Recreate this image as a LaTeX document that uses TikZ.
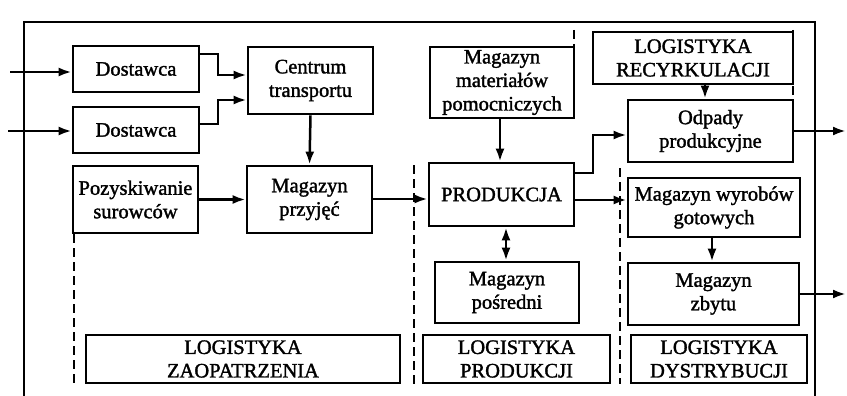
\documentclass[tikz,border=0pt]{standalone}
\usepackage{fontspec}
\setmainfont{Liberation Serif}[RawFeature={embolden=1.6}]
\usetikzlibrary{arrows.meta}
\begin{document}
\begin{tikzpicture}[x=1pt,y=-1pt,
  box/.style={draw,line width=2.7pt,inner sep=0pt,align=center,
    font=\fontsize{20.5}{23.5}\selectfont},
  conn/.style={line width=2.5pt,-{Latex[length=13pt,width=9pt]}},
  dconn/.style={line width=2.5pt,{Latex[length=13pt,width=9pt]}-{Latex[length=13pt,width=9pt]}},
  divider/.style={line width=2.8pt,dash pattern=on 9pt off 5pt},
  frame/.style={line width=2.8pt}]
\useasboundingbox (0,0) rectangle (847,396);
% frame
\coordinate (fbl) at (24,396);
\coordinate (ftl) at (24,22);
\coordinate (ftr) at (815,22);
\coordinate (fbr) at (815,396);
\draw[frame] (fbl) -- (ftl) -- (ftr) -- (fbr);
% boxes
\node[box,minimum width=126pt,minimum height=46pt] (d1) at (136,69) {Dostawca};
\node[box,minimum width=126pt,minimum height=46pt] (d2) at (136,130) {Dostawca};
\node[box,minimum width=125pt,minimum height=67pt] (ct) at (310.5,80.5) {Centrum\\transportu};
\node[box,minimum width=125pt,minimum height=67pt] (poz) at (135.5,199.5) {Pozyskiwanie\\surowców};
\node[box,minimum width=125pt,minimum height=67pt] (mp) at (309.5,199.5) {Magazyn\\przyjęć};
\node[box,minimum width=144pt,minimum height=71pt] (mm) at (502,82.5) {Magazyn\\materiałów\\pomocniczych};
\node[box,minimum width=145pt,minimum height=63pt] (prod) at (501.5,194.5) {PRODUKCJA};
\node[box,minimum width=200pt,minimum height=52pt] (lr) at (693,58) {LOGISTYKA\\RECYRKULACJI};
\node[box,minimum width=165pt,minimum height=62pt] (odp) at (710.5,131) {Odpady\\produkcyjne};
\node[box,minimum width=172pt,minimum height=59pt] (mwg) at (714,207.5) {Magazyn wyrobów\\gotowych};
\node[box,minimum width=171pt,minimum height=62pt] (mz) at (713.5,294) {Magazyn\\zbytu};
\node[box,minimum width=144pt,minimum height=61pt] (mpos) at (507,292.5) {Magazyn\\pośredni};
\node[box,minimum width=314pt,minimum height=48pt] (lz) at (243,359) {LOGISTYKA\\ZAOPATRZENIA};
\node[box,minimum width=187pt,minimum height=48pt] (lp) at (516.5,359) {LOGISTYKA\\PRODUKCJI};
\node[box,minimum width=176pt,minimum height=48pt] (ld) at (719,359) {LOGISTYKA\\DYSTRYBUCJI};
% dividers
\coordinate (dv1a) at (74,234); \coordinate (dv1b) at (74,384);
\coordinate (dv2a) at (414,165); \coordinate (dv2b) at (414,384);
\coordinate (dv3a) at (620,168); \coordinate (dv3b) at (620,384);
\coordinate (dv4a) at (574,30); \coordinate (dv4b) at (574,47);
\coordinate (dv5a) at (793,30); \coordinate (dv5b) at (793,100);
\draw[divider] (dv1a) -- (dv1b);
\draw[divider] (dv2a) -- (dv2b);
\draw[divider] (dv3a) -- (dv3b);
\draw[divider] (dv4a) -- (dv4b);
\draw[divider] (dv5a) -- (dv5b);
% connectors
\coordinate (in1) at (10,72);
\coordinate (in2) at (8,131);
\draw[conn] (in1) -- (in1 -| d1.west);
\draw[conn] (in2) -- (in2 -| d2.west);
\coordinate (d1o) at (199,54);
\coordinate (d2o) at (199,124);
\draw[conn] (d1o) -- (218,54) -- (218,75) -- (ct.west |- 0,75);
\draw[conn] (d2o) -- (218,124) -- (218,100) -- (ct.west |- 0,100);
\draw[conn] (ct.south) -- (mp.north);
\draw[conn] (poz.east) -- (mp.west);
\draw[conn] (mp.east |- 0,199) -- (prod.west |- 0,199);
\draw[conn] (mm.south -| 500,0) -- (prod.north -| 500,0);
\draw[conn] (prod.east |- 0,173) -- (593,173) -- (593,135) -- (odp.west |- 0,135);
\draw[conn] (lr.south -| 705,0) -- (odp.north -| 705,0);
\coordinate (out1) at (846,131);
\coordinate (out2) at (846,294);
\draw[conn] (odp.east |- out1) -- (out1);
\draw[conn] (prod.east |- 0,200) -- (mwg.west |- 0,200);
\draw[conn] (mwg.south -| 712,0) -- (mz.north -| 712,0);
\draw[conn] (mz.east |- out2) -- (out2);
\draw[dconn] (prod.south -| 506,0) -- (mpos.north -| 506,0);
\end{tikzpicture}
\end{document}
